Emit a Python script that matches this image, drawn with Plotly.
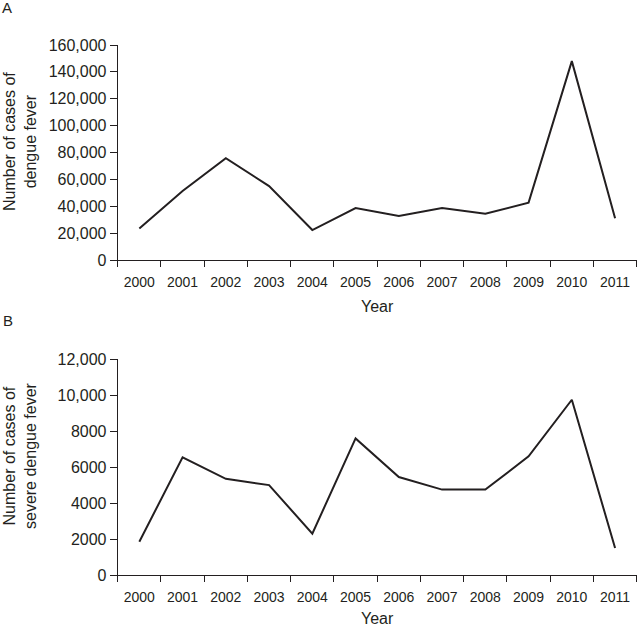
import plotly.graph_objects as go

years = ["2000", "2001", "2002", "2003", "2004", "2005", "2006", "2007", "2008", "2009", "2010", "2011"]
dengue_cases = [23500, 51300, 75700, 55000, 22300, 38700, 32700, 38700, 34400, 42700, 148000, 31000]
severe_cases = [1850, 6550, 5350, 5000, 2300, 7600, 5450, 4750, 4750, 6600, 9750, 1500]

a_ticks = [0, 20000, 40000, 60000, 80000, 100000, 120000, 140000, 160000]
a_ticktext = ["0", "20,000", "40,000", "60,000", "80,000", "100,000", "120,000", "140,000", "160,000"]
b_ticks = [0, 2000, 4000, 6000, 8000, 10000, 12000]
b_ticktext = ["0", "2000", "4000", "6000", "8000", "10,000", "12,000"]

W, H = 638, 627
FONT = "Liberation Sans, Arial, Helvetica, sans-serif"
INK = "#231f20"

def px_x(p):
    return p / W

def px_y(p):
    return 1 - p / H

fig = go.Figure()
fig.add_trace(go.Scatter(x=years, y=dengue_cases, mode="lines",
                         line=dict(color=INK, width=2), xaxis="x", yaxis="y",
                         showlegend=False, hoverinfo="skip"))
fig.add_trace(go.Scatter(x=years, y=severe_cases, mode="lines",
                         line=dict(color=INK, width=2), xaxis="x2", yaxis="y2",
                         showlegend=False, hoverinfo="skip"))

xdom = [px_x(117.7), px_x(636.7)]
common_x = dict(type="category", categoryorder="array", categoryarray=years,
                range=[-0.5, 11.5], tickson="boundaries", ticks="outside", ticklen=6,
                ticklabelstandoff=9,
                tickcolor=INK, showline=True, linecolor=INK, linewidth=1,
                showgrid=False, zeroline=False, automargin=False,
                tickfont=dict(family=FONT, size=14, color=INK), fixedrange=True)
common_y = dict(ticks="outside", ticklen=7, tickcolor=INK, showline=True, linecolor=INK,
                linewidth=1, showgrid=False, zeroline=False, automargin=False,
                tickfont=dict(family=FONT, size=16, color=INK), fixedrange=True)

fig.update_layout(
    width=W, height=H,
    margin=dict(l=0, r=0, t=0, b=0),
    paper_bgcolor="white", plot_bgcolor="white",
    xaxis=dict(domain=xdom, anchor="y", **common_x),
    yaxis=dict(domain=[px_y(260), px_y(45)], anchor="x", range=[0, 160000],
               tickmode="array", tickvals=a_ticks, ticktext=a_ticktext, **common_y),
    xaxis2=dict(domain=xdom, anchor="y2", **common_x),
    yaxis2=dict(domain=[px_y(575), px_y(359.3)], anchor="x2", range=[0, 12000],
                tickmode="array", tickvals=b_ticks, ticktext=b_ticktext, **common_y),
)

def ann(text, x, y, size=16, angle=0):
    fig.add_annotation(text=text, x=px_x(x), y=px_y(y), xref="paper", yref="paper",
                       xanchor="center", yanchor="middle", showarrow=False,
                       textangle=angle, font=dict(family=FONT, size=size, color=INK))

ann("A", 7, 7.5, size=15)
ann("B", 7.5, 320, size=15)
ann("Year", 377, 306)
ann("Year", 377, 618)
ann("Number of cases of<br>dengue fever", 20, 142, size=16, angle=-90)
ann("Number of cases of<br>severe dengue fever", 20, 456, size=16, angle=-90)

fig.write_html("out.html", config={"displayModeBar": False, "staticPlot": True},
               post_script="document.body.style.margin='0';document.body.style.padding='0';")
